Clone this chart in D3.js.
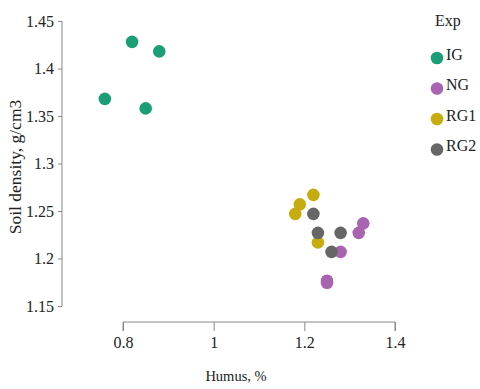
<!DOCTYPE html>
<html><head><meta charset="utf-8">
<script src="https://cdn.jsdelivr.net/npm/d3@7"></script>
<style>body{margin:0;background:#fff}svg{display:block}text{font-family:"Liberation Serif","Times New Roman",serif;fill:#222}</style>
</head><body>
<script>
const groups = ["IG","NG","RG1","RG2"];
const colors = ["#1b9e77","#a864b0","#c6ac0e","#666666"];
const humusIG = [0.82,0.88,0.76,0.85];
const densIG = [1.428,1.418,1.368,1.358];
const humusNG = [1.33,1.32,1.28,1.25,1.25];
const densNG = [1.237,1.227,1.207,1.1765,1.1745];
const humusRG1 = [1.22,1.19,1.18,1.23];
const densRG1 = [1.267,1.257,1.247,1.217];
const humusRG2 = [1.22,1.23,1.28,1.26];
const densRG2 = [1.247,1.227,1.227,1.207];
const xTicks = [0.8,1,1.2,1.4];
const yTicks = [1.15,1.2,1.25,1.3,1.35,1.4,1.45];

const series = [
  {g:"IG",x:humusIG,y:densIG},
  {g:"NG",x:humusNG,y:densNG},
  {g:"RG1",x:humusRG1,y:densRG1},
  {g:"RG2",x:humusRG2,y:densRG2}
];
const W=480,H=389;
const FF="'Liberation Serif','Times New Roman',serif";
const svg=d3.select("body").append("svg").attr("width",W).attr("height",H);
const x=d3.scaleLinear().domain([0.8,1.4]).range([123,395]);
const y=d3.scaleLinear().domain([1.15,1.45]).range([306,21]);
const color=d3.scaleOrdinal().domain(groups).range(colors);

// y axis (capped)
const ya=svg.append("g").attr("transform","translate(62,0)")
  .call(d3.axisLeft(y).tickValues(yTicks).tickSize(4).tickPadding(4).tickFormat(d3.format("~g")))
  .attr("font-family",FF).attr("font-size",16);
ya.select(".domain").attr("d",`M0,${y(1.15)}V${y(1.45)}`);
ya.selectAll("path,line").attr("stroke","#888");
ya.selectAll("text").attr("fill","#222").style("font-family",FF);

// x axis (capped, offset)
const xa=svg.append("g").attr("transform","translate(0,322)")
  .call(d3.axisBottom(x).tickValues(xTicks).tickSize(9).tickPadding(6).tickFormat(d3.format("~g")))
  .attr("font-family",FF).attr("font-size",16);
xa.select(".domain").attr("d",`M${x(0.8)},9V0H${x(1.4)}V9`).attr("fill","none");
xa.selectAll("path,line").attr("stroke","#888");
xa.selectAll("text").attr("fill","#222").style("font-family",FF);

// points
series.forEach(s=>{
  svg.append("g").selectAll("circle").data(s.x.map((v,i)=>[v,s.y[i]])).join("circle")
    .attr("cx",d=>x(d[0])).attr("cy",d=>y(d[1])).attr("r",6.3).attr("fill",color(s.g));
});

// titles
svg.append("text").attr("x",236).attr("y",381).attr("text-anchor","middle").attr("font-size",14.5).text("Humus, %");
svg.append("text").attr("transform","translate(21,167) rotate(-90)").attr("text-anchor","middle").attr("font-size",17.5).text("Soil density, g/cm3");

// legend
const lg=svg.append("g");
lg.append("text").attr("x",435).attr("y",26).attr("font-size",16).text("Exp");
groups.forEach((g,i)=>{
  const cy=58+i*30.5;
  lg.append("circle").attr("cx",437).attr("cy",cy).attr("r",6.3).attr("fill",color(g));
  lg.append("text").attr("x",446).attr("y",cy).attr("dy","0.1em").attr("font-size",16).text(g);
});
</script>
</body></html>
